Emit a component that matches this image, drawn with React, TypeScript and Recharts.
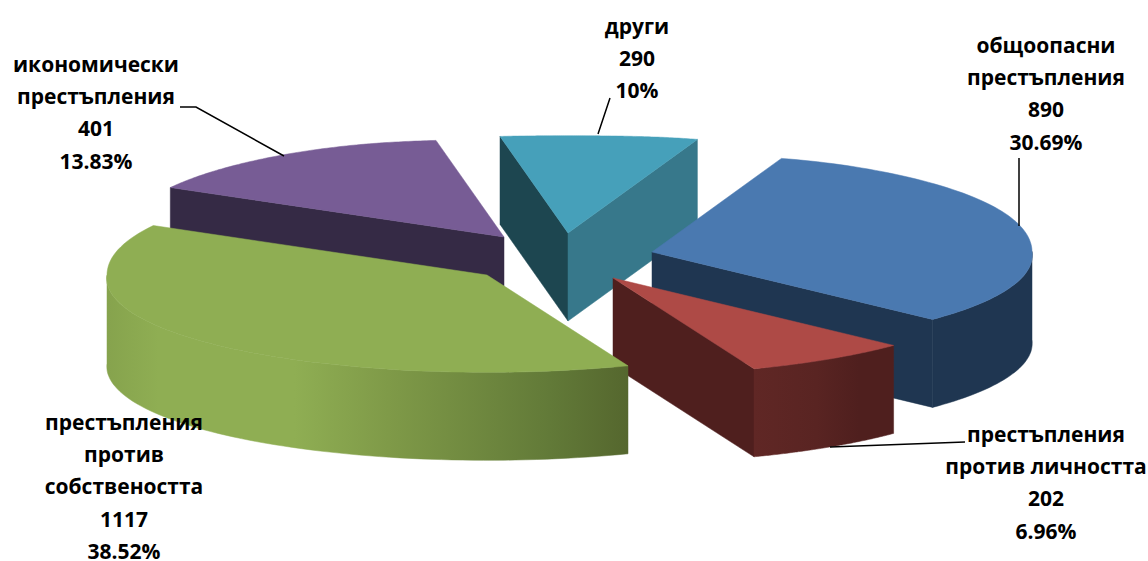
import React from 'react'
import { Pie, PieChart } from 'recharts'

const CATEGORIES = ['икономически престъпления', 'други', 'общоопасни престъпления', 'престъпления против личността', 'престъпления против собствеността']
const VALUES = [401, 290, 890, 202, 1117]
const PERCENT_LABELS = ['13.83%', '10%', '30.69%', '6.96%', '38.52%']
const NAME_LINES = [
  ['икономически', 'престъпления'],
  ['други'],
  ['общоопасни', 'престъпления'],
  ['престъпления', 'против личността'],
  ['престъпления', 'против', 'собствеността'],
]

const TOP_COLORS = ['#775c95', '#46a0ba', '#4a79b0', '#ae4a46', '#8fae53']
const START_WALL = ['#352a45', '#1d4650', '#1f3651', '#4f1f1e', '#4f6228']
const END_WALL = ['#352a45', '#37788b', '#1f3651', '#4f1f1e', '#4f6228']
const OUTER_WALL = ['#352a45', '#37788b', '#1f3651', 'url(#redWall)', 'url(#greenWall)']

const WIDTH = 1148
const HEIGHT = 561
const CX = 570
const CY = 258
const RADIUS = 380
const DEPTH = 88
const FONT = '"Open Sans", sans-serif'

// how far each slice is pulled out of the pie
const EXPLODE = [
  [-66, -21],
  [-2, -25],
  [82, -6],
  [43, 20],
  [-83, 17],
]
const LABEL_POS = [
  [96, 64],
  [637, 26],
  [1046, 45],
  [1046, 434],
  [124, 422],
]
const LEADERS = [
  '180,107 196,107 284,156',
  '610,98 598,134',
  '1019,158 1019,226',
  '965,442 830,447',
  '',
]

const RAD = Math.PI / 180

// squashes the circle to a tilted ellipse, the far side is a bit narrower
const project = (angle: number, r: number, ax: number, ay: number) => {
  const u = Math.cos(angle * RAD)
  const v = Math.sin(angle * RAD)
  const sx = v > 0 ? 1 - 0.2 * v ** 4 : 1 - 0.035 * v
  const sy = v > 0 ? 0.281 - 0.025 * v ** 8 : 0.256
  return [ax + r * u * sx, ay - r * v * sy]
}

const toPoints = (pts: number[][], dy = 0) => pts.map((p) => `${p[0].toFixed(1)},${(p[1] + dy).toFixed(1)}`).join(' ')

const Slice3D = (props: any) => {
  const { cx, cy, outerRadius, startAngle, endAngle, index } = props
  const ax = cx + EXPLODE[index][0]
  const ay = cy + EXPLODE[index][1]
  const arc: number[][] = []
  const front: number[][] = []
  const steps = 90
  for (let i = 0; i <= steps; i++) {
    const a = startAngle + ((endAngle - startAngle) * i) / steps
    const p = project(a, outerRadius, ax, ay)
    arc.push(p)
    if (Math.sin(a * RAD) <= 0.02) front.push(p)
  }
  const apex = [ax, ay]
  const first = arc[0]
  const last = arc[arc.length - 1]
  const wall = (a: number[], b: number[], fill: string) => (
    <polygon points={toPoints([a, b, [b[0], b[1] + DEPTH], [a[0], a[1] + DEPTH]])} fill={fill} stroke={fill} strokeWidth={0.5} />
  )
  return (
    <g>
      {first[0] < ax && wall(apex, first, START_WALL[index])}
      {last[0] > ax && wall(apex, last, END_WALL[index])}
      {front.length > 1 && (
        <polygon
          points={`${toPoints(front)} ${toPoints([...front].reverse(), DEPTH)}`}
          fill={OUTER_WALL[index]}
          stroke={OUTER_WALL[index]}
          strokeWidth={0.5}
        />
      )}
      <polygon points={`${toPoints([apex])} ${toPoints(arc)}`} fill={TOP_COLORS[index]} stroke={TOP_COLORS[index]} strokeWidth={0.5} />
    </g>
  )
}

const SliceLabel = (props: any) => {
  const { index } = props
  const [x, y] = LABEL_POS[index]
  const lines = [...NAME_LINES[index], String(VALUES[index]), PERCENT_LABELS[index]]
  return (
    <g>
      {LEADERS[index] && <polyline points={LEADERS[index]} fill="none" stroke="#000" strokeWidth={1.5} />}
      {lines.map((line, i) => (
        <text
          key={i}
          x={x}
          y={y + i * 32.2}
          textAnchor="middle"
          dominantBaseline="central"
          fontFamily={FONT}
          fontWeight={700}
          fontSize={21}
          fill="#000"
        >
          {line}
        </text>
      ))}
    </g>
  )
}

const data = CATEGORIES.map((name, i) => ({ name, value: VALUES[i] }))

export default function App() {
  return (
    <div style={{ position: 'absolute', left: 0, top: 0, width: WIDTH, height: HEIGHT, background: '#fff' }}>
      <PieChart width={WIDTH} height={HEIGHT} margin={{ top: 0, right: 0, bottom: 0, left: 0 }}>
        <defs>
          <linearGradient id="greenWall" x1="0" y1="0" x2="1" y2="0">
            <stop offset="0" stopColor="#86a34d" />
            <stop offset="0.1" stopColor="#8fae53" />
            <stop offset="0.36" stopColor="#8fae53" />
            <stop offset="0.54" stopColor="#7f9a48" />
            <stop offset="0.85" stopColor="#627a38" />
            <stop offset="1" stopColor="#55672e" />
          </linearGradient>
          <linearGradient id="redWall" x1="0" y1="0" x2="1" y2="0">
            <stop offset="0" stopColor="#602725" />
            <stop offset="0.45" stopColor="#592422" />
            <stop offset="0.75" stopColor="#4f1f1e" />
            <stop offset="1" stopColor="#4f1f1e" />
          </linearGradient>
        </defs>
        <Pie
          data={data}
          dataKey="value"
          nameKey="name"
          cx={CX}
          cy={CY}
          outerRadius={RADIUS}
          startAngle={152.4}
          endAngle={-207.6}
          paddingAngle={0}
          stroke="none"
          shape={Slice3D}
          label={SliceLabel}
          labelLine={false}
          isAnimationActive={false}
        />
      </PieChart>
    </div>
  )
}
